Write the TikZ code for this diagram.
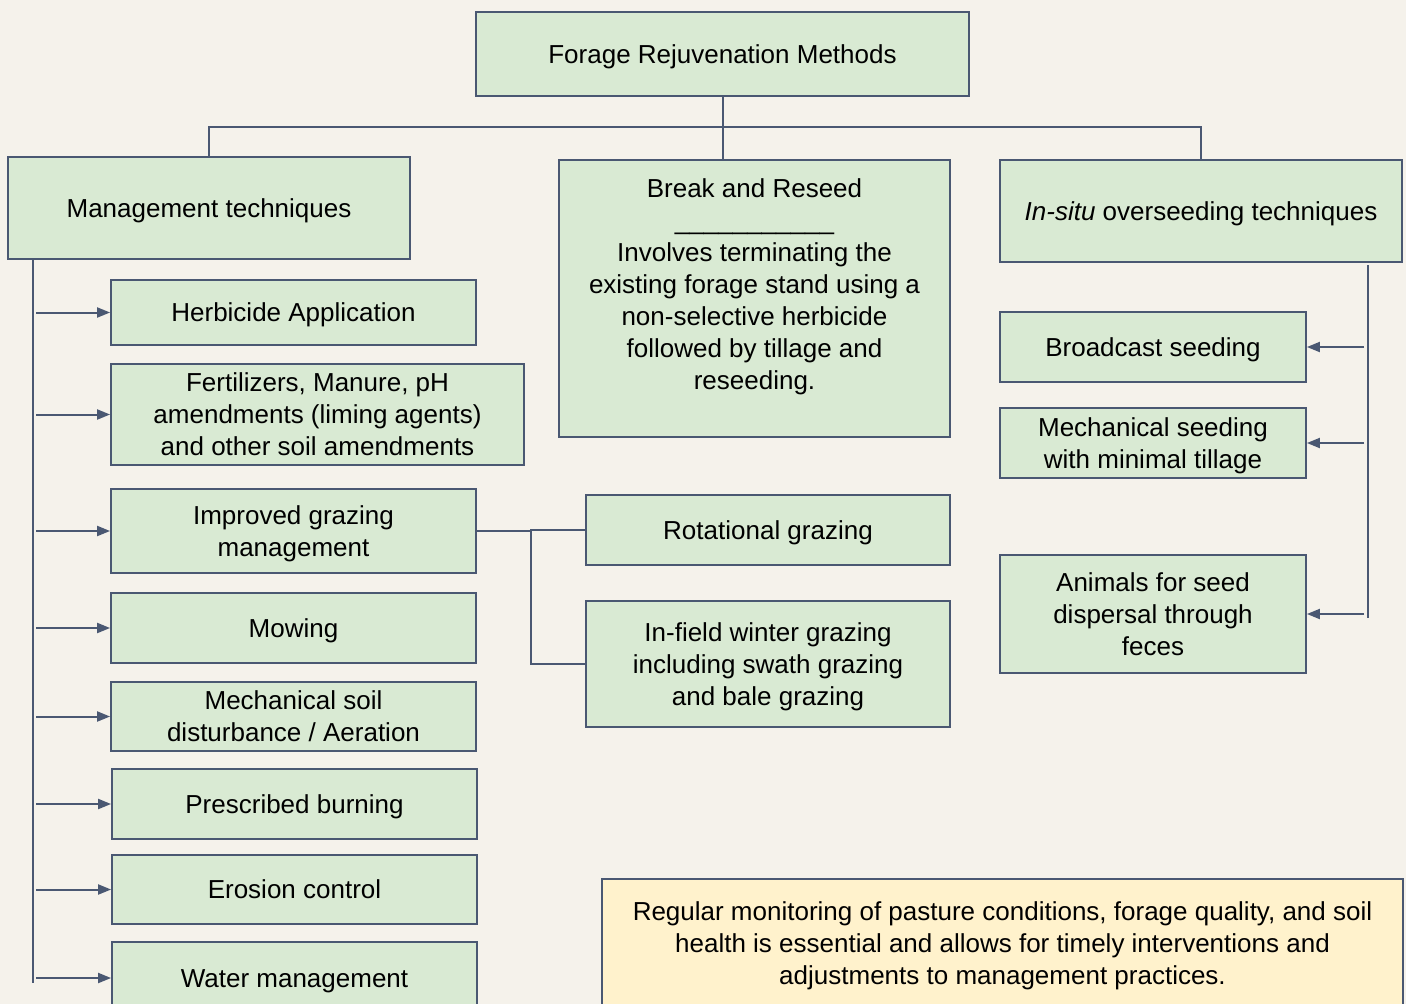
\documentclass[tikz,border=0pt]{standalone}
\usepackage{fontspec}
\setmainfont{Liberation Sans}
\usetikzlibrary{arrows.meta}
\definecolor{bg}{HTML}{F5F2EB}
\definecolor{gf}{HTML}{D9EAD3}
\definecolor{yf}{HTML}{FFF2CC}
\definecolor{bc}{HTML}{4A5872}
\newcommand\bs{\rule[-7pt]{0pt}{32pt}}
\tikzset{
  txt/.style={align=center, inner sep=0pt, font=\fontsize{26}{32}\selectfont,
    execute at begin node=\bs, execute at end node=\bs},
  box/.style={txt, draw=bc, fill=gf, line width=1.8pt, rectangle},
  notebox/.style={box, fill=yf},
  conn/.style={draw=bc, line width=2pt},
  arr/.style={conn, -{Triangle[length=13pt,width=10pt]}},
}
\begin{document}
\begin{tikzpicture}[x=1pt,y=-1pt]
\fill[bg] (0,0) rectangle (1406,1004);
\useasboundingbox (0,0) rectangle (1406,1004);

\node[box, minimum width=493pt, minimum height=84pt] (top) at (722.5,54) {Forage Rejuvenation Methods};
\node[box, minimum width=402pt, minimum height=102pt] (mgmt) at (209,208) {Management techniques};
\node[box, minimum width=391pt, minimum height=277pt] (br) at (754.5,298.5) {};
\node[txt, anchor=north] (brtext) at (754.5,172)
  {\bs Break and Reseed\\\_\_\_\_\_\_\_\_\_\_\_\\Involves terminating the\\existing forage stand using a\\non-selective herbicide\\followed by tillage and\\reseeding.\bs};
\node[box, minimum width=402pt, minimum height=102pt] (insitu) at (1201,211) {\textit{In-situ} overseeding techniques};

\node[box, minimum width=365pt, minimum height=65pt] (herb) at (293.5,312.5) {Herbicide Application};
\node[box, minimum width=413pt, minimum height=101pt] (fert) at (317.5,414.5) {\bs Fertilizers, Manure, pH\\amendments (liming agents)\\and other soil amendments\bs};
\node[box, minimum width=365pt, minimum height=84pt] (graz) at (293.5,531) {\bs Improved grazing\\management\bs};
\node[box, minimum width=365pt, minimum height=70pt] (mow) at (293.5,628) {Mowing};
\node[box, minimum width=365pt, minimum height=69pt] (mech) at (293.5,716.5) {\bs Mechanical soil\\disturbance / Aeration\bs};
\node[box, minimum width=365pt, minimum height=70pt] (burn) at (294.5,804) {Prescribed burning};
\node[box, minimum width=365pt, minimum height=69pt] (eros) at (294.5,889.5) {Erosion control};
\node[box, minimum width=365pt, minimum height=72pt] (water) at (294.5,978) {Water management};

\node[box, minimum width=364pt, minimum height=70pt] (rot) at (768,530) {Rotational grazing};
\node[box, minimum width=364pt, minimum height=126pt] (winter) at (768,664) {\bs In-field winter grazing\\including swath grazing\\and bale grazing\bs};

\node[box, minimum width=306pt, minimum height=70pt] (broad) at (1153,347) {Broadcast seeding};
\node[box, minimum width=306pt, minimum height=70pt] (mseed) at (1153,443) {\bs Mechanical seeding\\with minimal tillage\bs};
\node[box, minimum width=306pt, minimum height=118pt] (animals) at (1153,614) {\bs Animals for seed\\dispersal through\\feces\bs};

\node[notebox, minimum width=801pt, minimum height=128pt] (note) at (1002.5,943)
  {\bs Regular monitoring of pasture conditions, forage quality, and soil\\health is essential and allows for timely interventions and\\adjustments to management practices.\bs};

% top connectors
\draw[conn] (top.south) -- (top.south |- br.north);
\coordinate (hb) at (722,127);
\draw[conn] (mgmt.north) -- (mgmt.north |- hb) -- (insitu.north |- hb) -- (insitu.north);

% left spine
\coordinate (lv) at (33,983);
\draw[conn] (mgmt.south -| lv) -- (lv);
\foreach \n in {herb,fert,graz,mow,mech,burn,eros,water}{
  \draw[arr] ([xshift=3pt]\n.west -| lv) -- (\n.west);
}

% grazing branch
\coordinate (gj) at (531,531);
\draw[conn] (graz.east) -- (gj) |- (rot.west);
\draw[conn] (gj) |- (winter.west);

% right spine
\coordinate (rv1) at (1368,265);
\coordinate (rv2) at (1368,618);
\draw[conn] (rv1) -- (rv2);
\foreach \n in {broad,mseed,animals}{
  \draw[arr] ([xshift=-4pt]\n.east -| rv1) -- (\n.east);
}
\end{tikzpicture}
\end{document}
